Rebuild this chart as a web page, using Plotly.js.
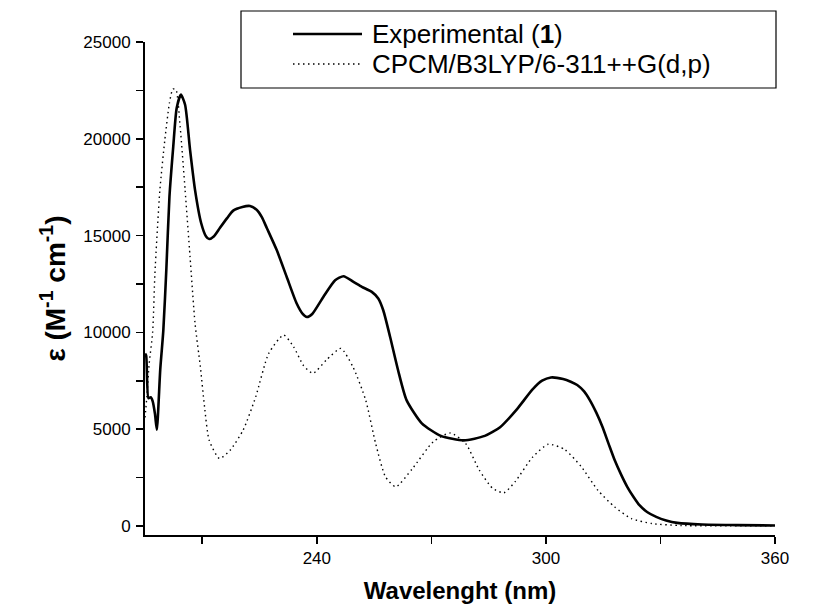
<!DOCTYPE html>
<html>
<head>
<meta charset="utf-8">
<script src="https://cdn.plot.ly/plotly-3.0.1.min.js"></script>
<style>html,body{margin:0;padding:0;background:#fff;}#chart{width:823px;height:615px;}</style>
</head>
<body>
<div id="chart"></div>
<script>
// Experimental spectrum (1)
const expWavelength = [195.0, 195.3, 195.9, 196.5, 197.0, 197.6, 198.1, 199.0, 199.8, 200.6, 201.4, 202.4, 203.3, 204.4, 205.5, 206.8, 208.1, 209.7, 211.0, 211.8, 213.0, 214.6, 216.5, 218.1, 220.5, 222.5, 224.3, 225.6, 226.9, 229.5, 232.1, 234.7, 236.3, 237.4, 238.8, 241.7, 244.8, 247.0, 249.6, 251.8, 254.4, 256.1, 257.4, 259.2, 261.3, 263.5, 267.5, 272.5, 278.5, 284.0, 288.0, 292.5, 296.5, 299.0, 301.3, 304.5, 306.5, 308.2, 310.0, 311.5, 313.2, 314.8, 316.4, 318.0, 319.7, 321.3, 323.0, 324.5, 326.5, 328.9, 331.5, 334.4, 340.9, 350.0, 360.0];
const expEpsilon = [8900, 8800, 6600, 6650, 6450, 5800, 4970, 8100, 10100, 13300, 17000, 19600, 21590, 22280, 21760, 19430, 17360, 15650, 14950, 14820, 14950, 15390, 15900, 16290, 16480, 16530, 16320, 15950, 15390, 14250, 12870, 11500, 10950, 10790, 10950, 11830, 12690, 12900, 12610, 12350, 12090, 11750, 11140, 9760, 8030, 6500, 5300, 4650, 4420, 4650, 5100, 6050, 7050, 7500, 7670, 7590, 7450, 7280, 6950, 6500, 5850, 5120, 4250, 3400, 2650, 2020, 1480, 1070, 720, 465, 280, 155, 70, 40, 20];

// CPCM/B3LYP/6-311++G(d,p) calculated spectrum
const calcWavelength = [195.0, 195.5, 196.1, 197.0, 197.6, 198.9, 200.2, 201.4, 202.3, 203.1, 204.2, 205.5, 206.8, 208.1, 209.5, 210.6, 211.8, 214.5, 217.3, 220.7, 224.0, 227.4, 231.3, 233.9, 236.5, 239.0, 242.5, 246.3, 249.5, 252.8, 255.4, 258.0, 260.7, 265.0, 270.5, 275.0, 279.0, 282.5, 286.0, 289.0, 292.0, 296.5, 300.6, 304.9, 309.3, 313.6, 318.0, 322.4, 327.8, 335.5, 360.0];
const calcEpsilon = [5600, 6700, 8390, 10000, 13050, 17360, 19950, 21850, 22570, 22540, 20640, 17360, 13900, 10470, 8220, 6150, 4430, 3480, 3910, 4950, 6670, 8910, 9860, 9260, 8290, 7880, 8570, 9170, 8200, 6500, 4260, 2530, 2020, 2950, 4350, 4800, 4250, 2900, 1950, 1710, 2300, 3550, 4220, 3950, 3050, 1840, 980, 380, 120, 20, 0];

const seriesNames = ['Experimental (1)', 'CPCM/B3LYP/6-311++G(d,p)'];
const legendTexts = ['Experimental (<b>1</b>)', 'CPCM/B3LYP/6-311++G(d,p)'];
const xTickVals = [240, 300, 360];
const xTickText = ['240', '300', '360'];
const yTickVals = [0, 5000, 10000, 15000, 20000, 25000];
const yTickText = ['0', '5000', '10000', '15000', '20000', '25000'];

const FONT = 'Liberation Sans, Arial, sans-serif';

const traces = [
  {x: expWavelength, y: expEpsilon, name: seriesNames[0], type: 'scatter', mode: 'lines',
   line: {color: '#000', width: 2.6, shape: 'spline', smoothing: 0.6}, showlegend: false, hoverinfo: 'x+y'},
  {x: calcWavelength, y: calcEpsilon, name: seriesNames[1], type: 'scatter', mode: 'lines',
   line: {color: '#000', width: 1.4, dash: '1.5px,3.5px', shape: 'spline', smoothing: 0.6}, showlegend: false, hoverinfo: 'x+y'}
];

// plot area in pixels: x 145..775, y 42..535
const px = v => (v - 145) / 630;
const py = v => (535 - v) / 493;

const layout = {
  width: 823, height: 615,
  margin: {l: 145, r: 48, t: 42, b: 80},
  paper_bgcolor: '#fff', plot_bgcolor: '#fff',
  font: {family: FONT, color: '#000', size: 16},
  showlegend: false,
  xaxis: {
    range: [195, 360], tickmode: 'array', tickvals: xTickVals, ticktext: xTickText,
    ticks: 'outside', ticklen: 7, tickwidth: 1.6, tickcolor: '#000',
    minor: {ticks: 'outside', tick0: 210, dtick: 30, ticklen: 7, tickwidth: 1.6, tickcolor: '#000', showgrid: false},
    showline: true, linewidth: 2, linecolor: '#000', mirror: false,
    showgrid: false, zeroline: false, ticklabelstandoff: 0,
    tickfont: {family: FONT, size: 17, color: '#000'},
    title: {text: '<b>Wavelenght (nm)</b>', font: {family: FONT, size: 24, color: '#000'}, standoff: 15}
  },
  yaxis: {
    range: [-470, 25000], tickmode: 'array', tickvals: yTickVals, ticktext: yTickText,
    ticks: 'outside', ticklen: 7, tickwidth: 1.6, tickcolor: '#000',
    minor: {ticks: 'outside', tick0: 0, dtick: 2500, ticklen: 7, tickwidth: 1.6, tickcolor: '#000', showgrid: false},
    showline: true, linewidth: 2, linecolor: '#000', mirror: false,
    showgrid: false, zeroline: false, ticklabelstandoff: 2,
    tickfont: {family: FONT, size: 17, color: '#000'},
    title: {text: '<b>ε (M<sup>-1</sup> cm<sup>-1</sup>)</b>', font: {family: FONT, size: 28, color: '#000'}, standoff: 10}
  },
  shapes: [
    {type: 'rect', xref: 'paper', yref: 'paper', x0: px(241), x1: px(776), y0: py(88), y1: py(11),
     line: {color: '#000', width: 1.2}, fillcolor: 'rgba(255,255,255,1)', layer: 'above'},
    {type: 'line', xref: 'paper', yref: 'paper', x0: px(293), x1: px(362), y0: py(34), y1: py(34),
     line: {color: '#000', width: 2.6}, layer: 'above'},
    {type: 'line', xref: 'paper', yref: 'paper', x0: px(293), x1: px(362), y0: py(64), y1: py(64),
     line: {color: '#000', width: 1.4, dash: '1.5px,3.5px'}, layer: 'above'}
  ],
  annotations: [
    {xref: 'paper', yref: 'paper', x: px(370), y: py(34), xanchor: 'left', yanchor: 'middle',
     text: legendTexts[0], showarrow: false, font: {family: FONT, size: 26, color: '#000'}},
    {xref: 'paper', yref: 'paper', x: px(370), y: py(64), xanchor: 'left', yanchor: 'middle',
     text: legendTexts[1], showarrow: false, font: {family: FONT, size: 26, color: '#000'}}
  ]
};

Plotly.newPlot('chart', traces, layout, {staticPlot: true, displayModeBar: false});
</script>
</body>
</html>
